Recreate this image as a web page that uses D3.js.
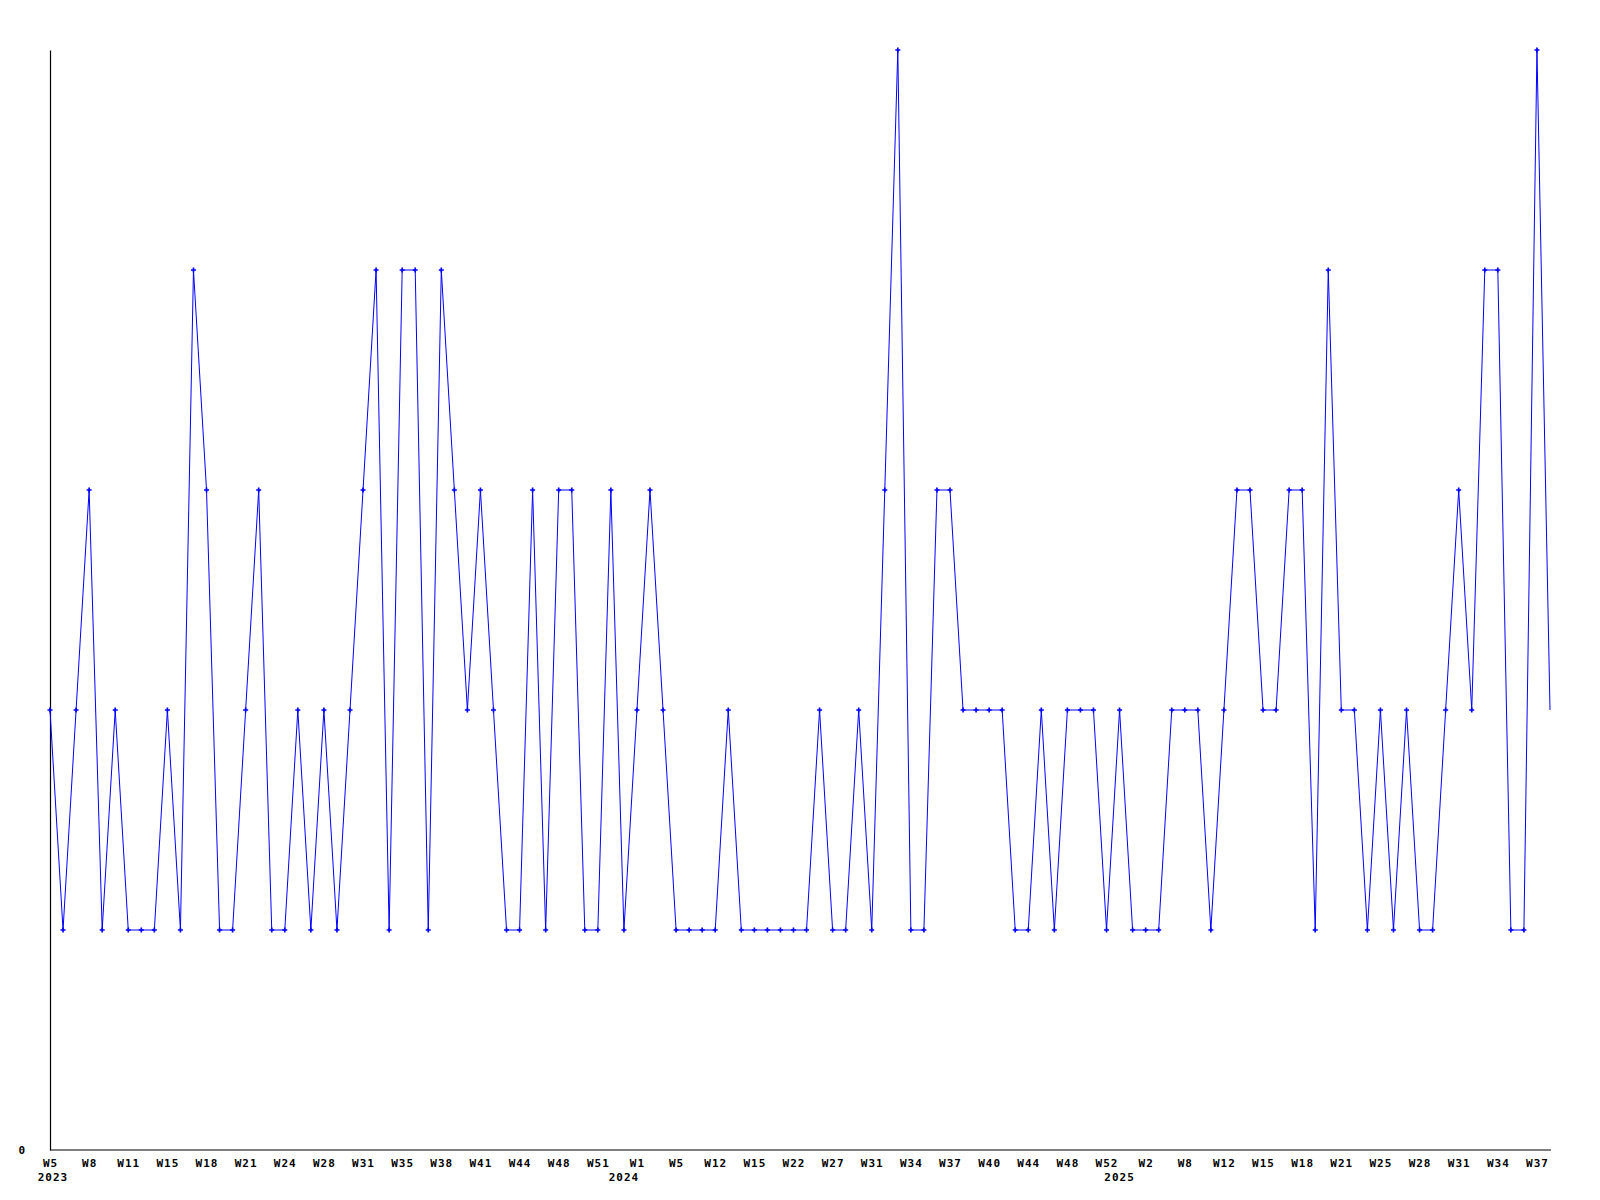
<!DOCTYPE html>
<html>
<head>
<meta charset="utf-8">
<script src="https://cdn.jsdelivr.net/npm/d3@7"></script>
<style>
  html, body { margin: 0; padding: 0; background: #fff; }
  svg text { font-family: "DejaVu Sans Mono", "Liberation Mono", monospace; font-weight: bold; font-size: 11px; letter-spacing: 1px; fill: #000; }
</style>
</head>
<body>
<svg id="chart" width="1600" height="1200"></svg>
<script>
// Weekly values, one per plotted week (in order)
const values = [
  2,1,2,3,1,2,1,1,1,2,
  1,4,3,1,1,2,3,1,1,2,
  1,2,1,2,3,4,1,4,4,1,
  4,3,2,3,2,1,1,3,1,3,
  3,1,1,3,1,2,3,2,1,1,
  1,1,2,1,1,1,1,1,1,2,
  1,1,2,1,3,5,1,1,3,3,
  2,2,2,2,1,1,2,1,2,2,
  2,1,2,1,1,1,2,2,2,1,
  2,3,3,2,2,3,3,1,4,2,
  2,1,2,1,2,1,1,2,3,2,
  4,4,1,1,5,2
];
// Week tick labels, shown on every third plotted week
const tickLabels = ["W5","W8","W11","W15","W18","W21","W24","W28","W31","W35","W38","W41","W44","W48","W51",
  "W1","W5","W12","W15","W22","W27","W31","W34","W37","W40","W44","W48","W52",
  "W2","W8","W12","W15","W18","W21","W25","W28","W31","W34","W37"];
const tickStep = 3;
// Year labels and the plotted week index where each year begins
const yearLabels = ["2023","2024","2025"];
const yearStarts = [0, 44, 82];
const yTicks = [0];

const svg = d3.select("#chart");
const mLeft = 50, mRight = 1550, mTop = 50, mBottom = 1150;

const x = d3.scaleLinear().domain([0, values.length - 1]).range([mLeft, mRight]);
const y = d3.scaleLinear().domain([0, d3.max(values)]).range([mBottom, mTop]);

// axes
const tickIdx = tickLabels.map((_, i) => i * tickStep);
const xAxis = d3.axisBottom(x)
  .tickValues(tickIdx)
  .tickFormat((d, i) => tickLabels[i])
  .tickSize(0).tickPadding(9);
const gx = svg.append("g").attr("transform", `translate(0,${mBottom})`).call(xAxis);
gx.select(".domain").attr("stroke", "#000").attr("stroke-width", 1.2).attr("d", `M${mLeft},0H${mRight + 1}`);
gx.selectAll("text").attr("font-family", null).attr("font-size", null);

const yAxis = d3.axisLeft(y).tickValues(yTicks).tickFormat(d3.format("d")).tickSize(0).tickPadding(24);
const gy = svg.append("g").attr("transform", `translate(${mLeft},0)`).call(yAxis);
gy.select(".domain").attr("stroke", "#000").attr("stroke-width", 1.2);
gy.selectAll("text").attr("font-family", null).attr("font-size", null);
gx.attr("font-family", null).attr("font-size", null);
gy.attr("font-family", null).attr("font-size", null);

// year labels
svg.append("g").selectAll("text").data(yearLabels).join("text")
  .attr("x", (d, i) => x(yearStarts[i]) + (i === 0 ? 3 : 0))
  .attr("y", mBottom + 31)
  .attr("text-anchor", "middle")
  .text(d => d);

// line
const line = d3.line().x((d, i) => x(i)).y(d => y(d));
svg.append("path").datum(values)
  .attr("fill", "none").attr("stroke", "#0000ff").attr("stroke-width", 1)
  .attr("d", line);

// markers (none on final point)
const sym = d3.symbol().type(d3.symbolCross).size(14);
svg.append("g").selectAll("path").data(values.slice(0, -1)).join("path")
  .attr("transform", (d, i) => `translate(${x(i)},${y(d)})`)
  .attr("fill", "#0000ff")
  .attr("d", sym);
</script>
</body>
</html>
